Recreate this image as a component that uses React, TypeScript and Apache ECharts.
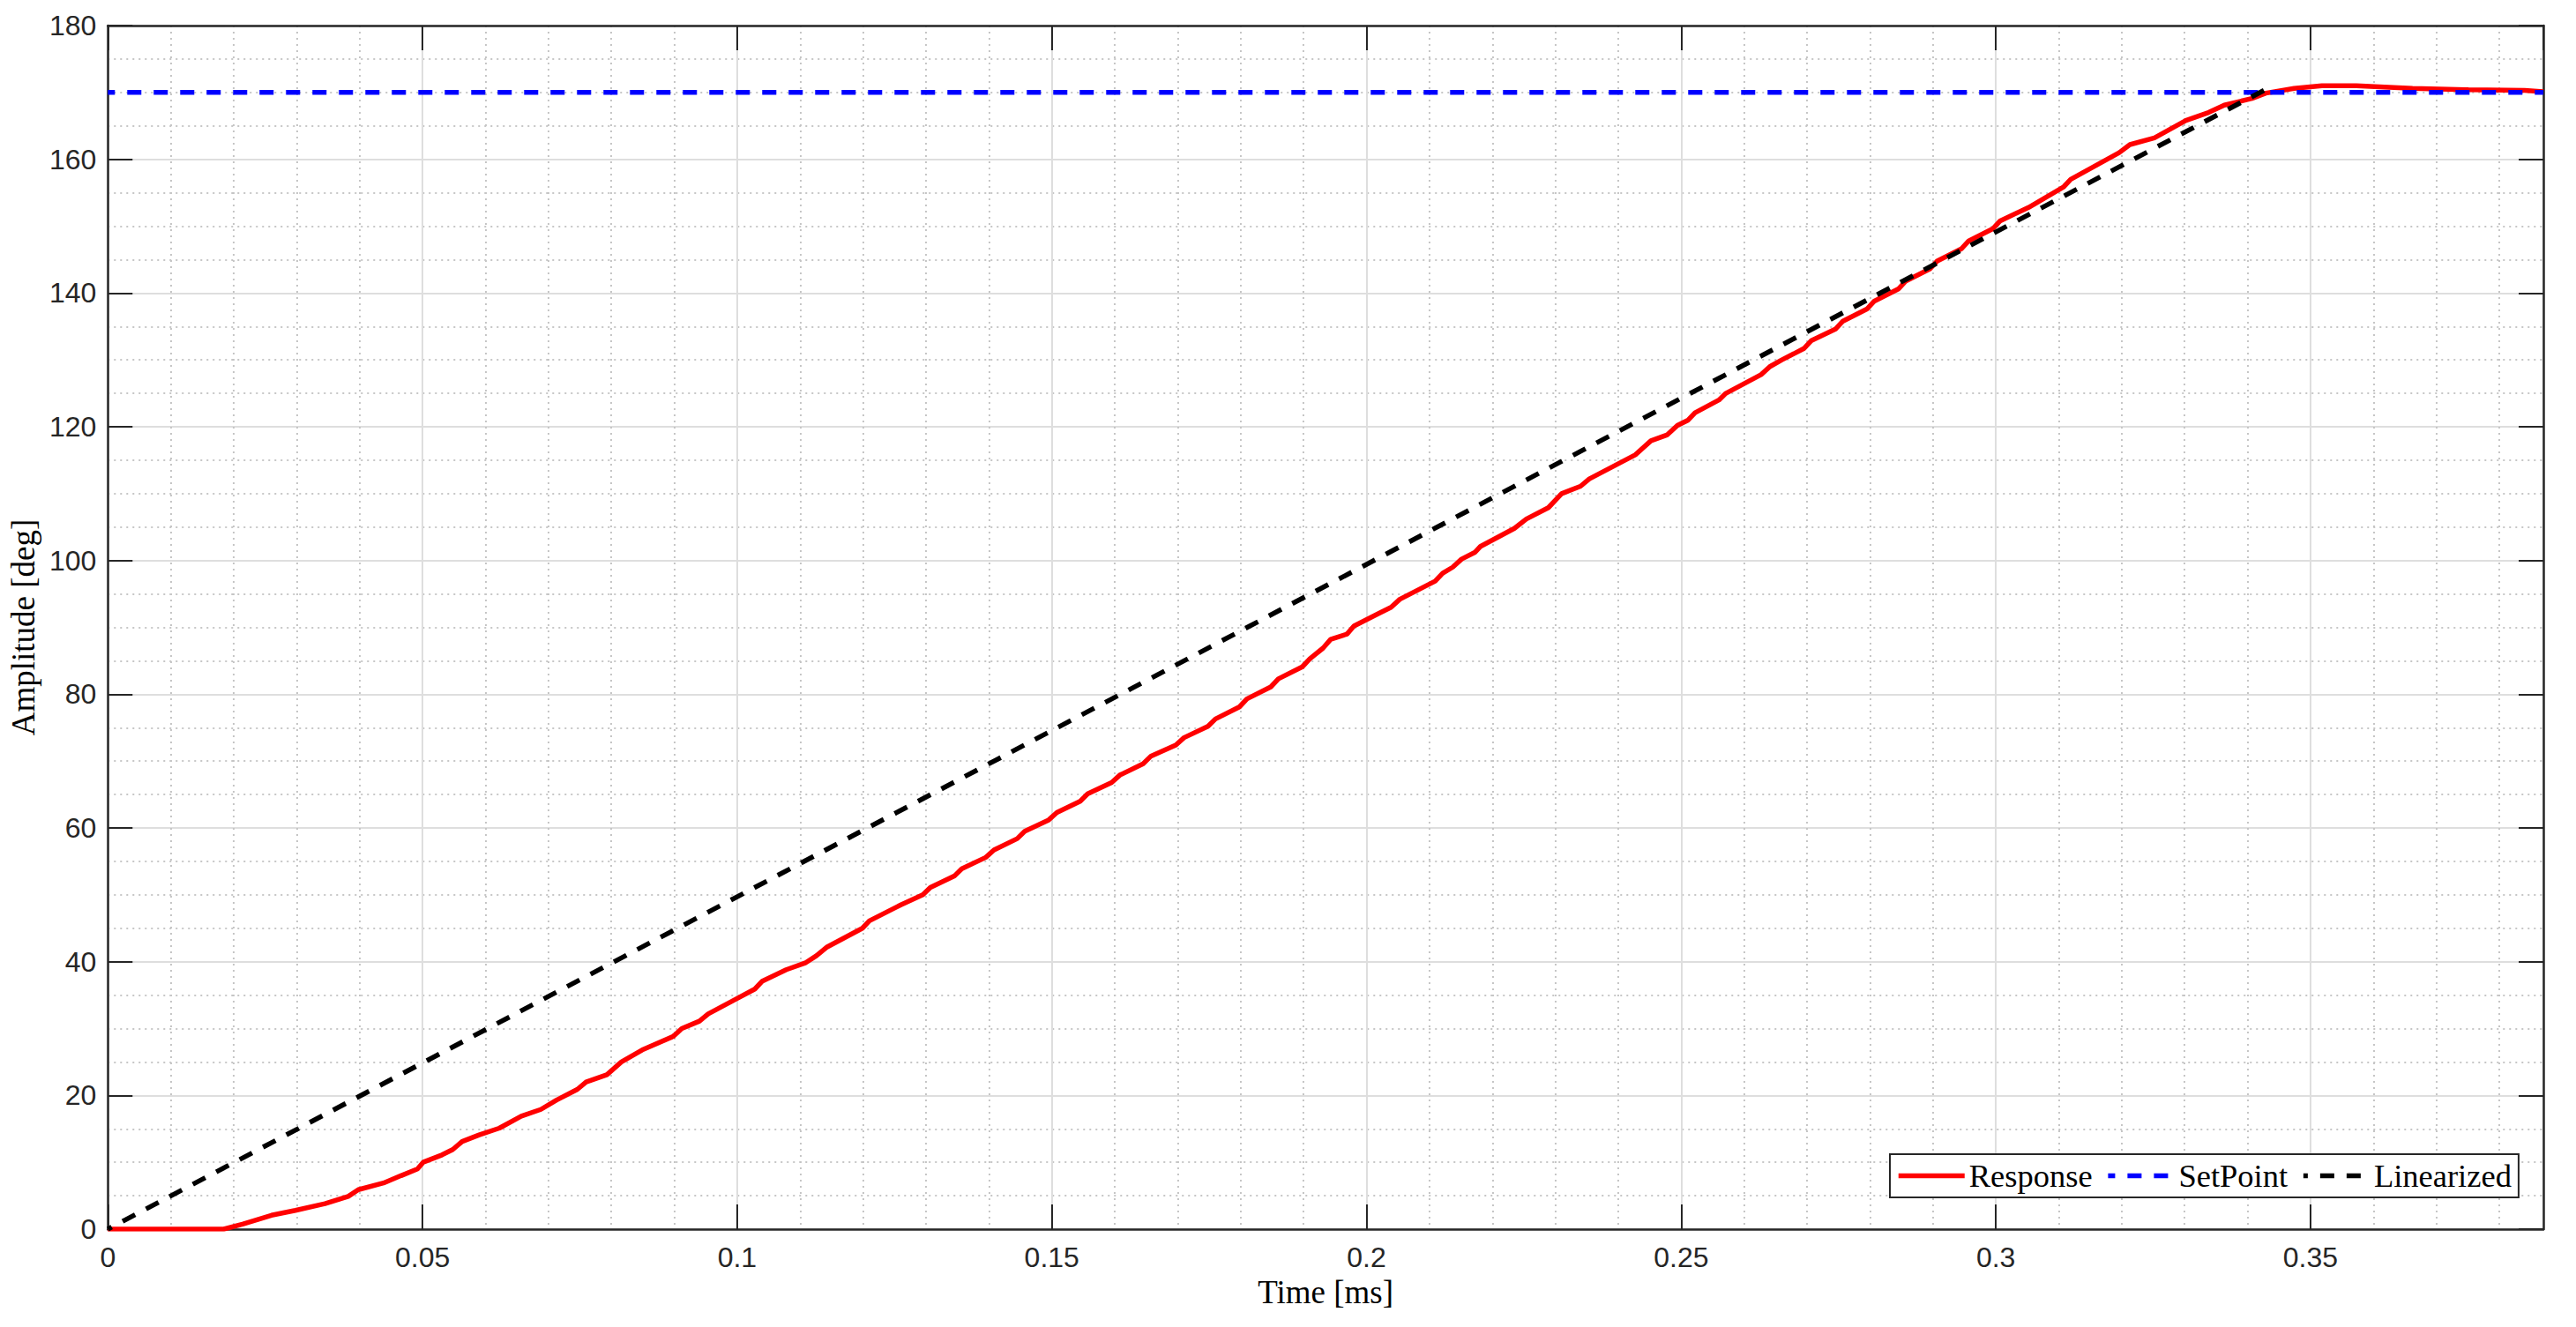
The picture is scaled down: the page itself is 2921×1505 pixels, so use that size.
import React, { useEffect, useRef } from "react";
import * as echarts from "echarts";

// ---- Data ----
const responseTime: number[] = [
  0, 0.0184, 0.0214, 0.026, 0.0298, 0.0345, 0.0382, 0.0398, 0.0438, 0.0466,
  0.0492, 0.0501, 0.0531, 0.0548, 0.0563, 0.059, 0.0622, 0.0657, 0.0688, 0.0713,
  0.0746, 0.076, 0.0793, 0.0816, 0.0849, 0.0898, 0.0912, 0.094, 0.0954, 0.0998,
  0.1028, 0.104, 0.1078, 0.1108, 0.1126, 0.1143, 0.1199, 0.121, 0.126, 0.1295,
  0.1307, 0.1345, 0.1357, 0.1395, 0.1408, 0.1445, 0.1457, 0.1495, 0.1508, 0.1545,
  0.1557, 0.1595, 0.1608, 0.1645, 0.1657, 0.1697, 0.171, 0.1748, 0.176, 0.1798,
  0.181, 0.1848, 0.186, 0.1898, 0.191, 0.1931, 0.1943, 0.1969, 0.198, 0.202,
  0.2039, 0.2053, 0.2109, 0.2121, 0.2137, 0.2151, 0.2172, 0.2181, 0.2235, 0.2254,
  0.2289, 0.231, 0.234, 0.2354, 0.2427, 0.2452, 0.2478, 0.2494, 0.2511, 0.2522,
  0.256, 0.2571, 0.2627, 0.2641, 0.266, 0.2695, 0.2707, 0.2745, 0.2757, 0.2795,
  0.2807, 0.2845, 0.2857, 0.2895, 0.2907, 0.2945, 0.2957, 0.2995, 0.3007, 0.3052,
  0.3108, 0.3119, 0.3196, 0.3213, 0.3252, 0.3302, 0.3338, 0.3363, 0.3407, 0.3429,
  0.3474, 0.3518, 0.3573, 0.3662, 0.3751, 0.384, 0.387,
];
const responseAmp: number[] = [
  0, 0, 0.75, 2.07, 2.8, 3.8, 4.9, 5.9, 6.9, 8.0,
  9.0, 10.0, 11.1, 11.9, 13.1, 14.1, 15.1, 16.9, 17.9, 19.3,
  20.9, 22.0, 23.1, 25.0, 26.8, 28.8, 30.0, 31.1, 32.2, 34.4,
  35.9, 37.1, 38.8, 39.8, 40.9, 42.2, 45.0, 46.1, 48.5, 50.0,
  51.1, 52.8, 53.9, 55.6, 56.7, 58.4, 59.5, 61.2, 62.3, 64.0,
  65.1, 66.8, 67.9, 69.6, 70.7, 72.4, 73.5, 75.2, 76.3, 78.1,
  79.3, 81.1, 82.3, 84.1, 85.3, 86.9, 88.2, 89.0, 90.2, 92.1,
  93.0, 94.2, 96.9, 98.1, 99.0, 100.2, 101.2, 102.1, 104.8, 106.2,
  107.9, 110.0, 111.1, 112.2, 115.8, 117.9, 118.8, 120.2, 121.0, 122.1,
  124.0, 125.0, 127.8, 129.0, 130.0, 131.7, 132.9, 134.6, 135.8, 137.6,
  138.8, 140.6, 141.8, 143.6, 144.8, 146.6, 147.8, 149.6, 150.8, 152.8,
  155.9, 157.0, 161.0, 162.2, 163.2, 165.8, 167.0, 168.1, 169.1, 169.9,
  170.6, 171.0, 171.0, 170.6, 170.4, 170.3, 170.1,
];
const setPointTime: number[] = [0, 0.387];
const setPointAmp: number[] = [170, 170];
const linearTime: number[] = [0, 0.344];
const linearAmp: number[] = [0, 171];

const seriesNames = ["Response", "SetPoint", "Linearized"];
const xMin = 0;
const xMax = 0.387;
const xMajor = 0.05;
const xMinor = 0.01;
const yMin = 0;
const yMax = 180;
const yMajor = 20;

const xLabel = "Time [ms]";
const yLabel = "Amplitude [deg]";

const zip = (a: number[], b: number[]) => a.map((v, i) => [v, b[i]]);

const AXIS_COLOR = "#262626";
const MAJOR_GRID = "#dedede";
const MINOR_GRID = "#c6c6c6";
const TICK_FONT = "'Liberation Sans', Arial, Helvetica, sans-serif";
const SERIF = "'Liberation Serif', 'Times New Roman', serif";

export default function App() {
  const ref = useRef<HTMLDivElement>(null);

  useEffect(() => {
    if (!ref.current) return;
    const chart = echarts.init(ref.current, undefined, { renderer: "svg" });

    const tickStyle = { show: true, inside: true, length: 28, lineStyle: { color: AXIS_COLOR, width: 2 } };
    const axisLine = { show: true, onZero: false, lineStyle: { color: AXIS_COLOR, width: 2.5 } };

    const option: any = {
      animation: false,
      backgroundColor: "#ffffff",
      grid: { left: 121, top: 29, width: 2763, height: 1365, containLabel: false },
      legend: {
        data: seriesNames,
        left: 2143,
        top: 1309,
        orient: "horizontal",
        itemWidth: 75,
        itemHeight: 14,
        itemGap: 15,
        padding: [6, 8, 6, 7],
        borderColor: AXIS_COLOR,
        borderWidth: 2,
        borderRadius: 0,
        backgroundColor: "#ffffff",
        itemStyle: { opacity: 0 },
        lineStyle: { width: 5.5 },
        textStyle: { fontFamily: SERIF, fontSize: 36.5, color: "#000000" },
      },
      xAxis: [
        {
          // minor grid (hidden axis)
          type: "value",
          min: xMin,
          max: xMax,
          interval: xMinor,
          position: "bottom",
          axisLine: { show: false, onZero: false },
          axisTick: { show: false },
          axisLabel: { show: false },
          splitLine: { show: true, lineStyle: { color: MINOR_GRID, width: 2, type: [2, 5] } },
        },
        {
          type: "value",
          min: xMin,
          max: xMax,
          interval: xMajor,
          position: "bottom",
          name: xLabel,
          nameLocation: "middle",
          nameGap: 52,
          nameTextStyle: { fontFamily: SERIF, fontSize: 37, color: "#000000" },
          axisLine,
          axisTick: tickStyle,
          axisLabel: {
            show: true,
            margin: 16,
            fontFamily: TICK_FONT,
            fontSize: 32,
            color: AXIS_COLOR,
            showMaxLabel: false,
          },
          splitLine: { show: true, lineStyle: { color: MAJOR_GRID, width: 2, type: "solid" } },
        },
        {
          type: "value",
          min: xMin,
          max: xMax,
          interval: xMajor,
          position: "top",
          axisLine,
          axisTick: tickStyle,
          axisLabel: { show: false },
          splitLine: { show: false },
        },
      ],
      yAxis: [
        {
          type: "value",
          min: yMin,
          max: yMax,
          interval: yMajor,
          position: "left",
          name: yLabel,
          nameLocation: "middle",
          nameGap: 74,
          nameTextStyle: { fontFamily: SERIF, fontSize: 37, color: "#000000" },
          axisLine,
          axisTick: tickStyle,
          axisLabel: { show: true, margin: 13, fontFamily: TICK_FONT, fontSize: 32, color: AXIS_COLOR },
          splitLine: { show: true, lineStyle: { color: MAJOR_GRID, width: 2, type: "solid" } },
          minorTick: { show: false, splitNumber: 4 },
          minorSplitLine: { show: true, lineStyle: { color: MINOR_GRID, width: 2, type: [2, 5] } },
        },
        {
          type: "value",
          min: yMin,
          max: yMax,
          interval: yMajor,
          position: "right",
          axisLine,
          axisTick: tickStyle,
          axisLabel: { show: false },
          splitLine: { show: false },
        },
      ],
      series: [
        {
          name: seriesNames[0],
          type: "line",
          xAxisIndex: 1,
          yAxisIndex: 0,
          data: zip(responseTime, responseAmp),
          showSymbol: false,
          symbol: "none",
          lineStyle: { color: "#ff0000", width: 5.5 },
          itemStyle: { color: "#ff0000" },
          z: 3,
        },
        {
          name: seriesNames[1],
          type: "line",
          xAxisIndex: 1,
          yAxisIndex: 0,
          data: zip(setPointTime, setPointAmp),
          showSymbol: false,
          symbol: "none",
          lineStyle: { color: "#0000ff", width: 5.5, type: [16, 14], dashOffset: 8 },
          itemStyle: { color: "#0000ff" },
          z: 4,
        },
        {
          name: seriesNames[2],
          type: "line",
          xAxisIndex: 1,
          yAxisIndex: 0,
          data: zip(linearTime, linearAmp),
          showSymbol: false,
          symbol: "none",
          lineStyle: { color: "#000000", width: 5.5, type: [16, 14], dashOffset: 11 },
          itemStyle: { color: "#000000" },
          z: 5,
        },
      ],
    };

    chart.setOption(option);
    return () => chart.dispose();
  }, []);

  return (
    <div
      ref={ref}
      style={{ position: "absolute", left: 0, top: 0, width: 2921, height: 1505, background: "#fff" }}
    />
  );
}
